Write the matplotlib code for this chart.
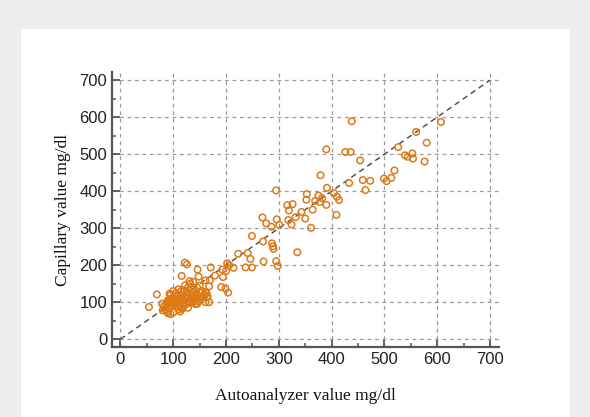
import matplotlib
matplotlib.use("Agg")
import matplotlib.pyplot as plt
from matplotlib.patches import Rectangle
from matplotlib.ticker import MultipleLocator

# Autoanalyzer (x) vs Capillary (y) values, mg/dl
auto_vals = [
    438, 607, 560, 390, 526, 580, 426, 436, 539, 553, 554, 544, 576, 454, 519,
    379, 499, 504, 513, 459, 473, 433, 464, 391, 295, 404, 410, 414, 353, 352,
    375, 382, 378, 369, 390, 409, 316, 326, 319, 343, 350, 364, 361, 269, 276,
    286, 296, 301, 318, 324, 332, 249, 270, 287, 289, 290, 335, 271, 295, 298,
    223, 241, 246, 237, 249, 202, 206, 214, 193, 200, 171, 179, 146, 148, 161,
    169, 168, 194, 191, 199, 204, 122, 126, 116, 131, 161, 164, 161, 168, 142,
    69, 54, 93, 89, 79,
    95, 100, 105, 110, 115, 120, 125, 130, 135, 140, 145, 150, 155, 158,
    85, 88, 90, 95, 100, 92, 97, 100, 103, 105, 108, 110, 112, 115, 118, 120,
    122, 125, 128, 130, 132, 135, 138, 140, 142, 145, 148, 150, 152, 155, 160,
    163, 165, 98, 100, 102, 96, 104, 106, 108, 112, 114, 116, 118, 120, 124,
    126, 128, 110, 113, 117, 95, 90, 86, 82, 80, 135, 140, 145, 150, 128, 122,
    132, 138,
    97, 99, 101, 103, 94, 106, 99, 102, 108, 111, 93, 104,
]
capillary_vals = [
    589, 587, 560, 513, 519, 531, 506, 506, 497, 502, 488, 493, 480, 483, 456,
    443, 434, 427, 436, 430, 428, 422, 403, 409, 402, 395, 385, 376, 392, 377,
    388, 381, 371, 374, 363, 336, 362, 365, 348, 344, 326, 350, 301, 329, 313,
    304, 324, 309, 322, 310, 330, 279, 264, 259, 251, 244, 235, 210, 211, 198,
    231, 233, 217, 194, 194, 205, 200, 193, 188, 184, 194, 172, 188, 169, 159,
    159, 143, 168, 141, 137, 126, 207, 202, 171, 157, 127, 113, 100, 100, 95,
    121, 87, 123, 99, 96,
    120, 130, 125, 135, 130, 133, 128, 125, 122, 118, 120, 115, 112, 118,
    80, 75, 70, 68, 72, 85, 90, 95, 100, 105, 98, 92, 88, 85, 95, 100,
    105, 110, 102, 98, 108, 112, 100, 105, 110, 95, 102, 108, 125, 130, 120,
    125, 115, 100, 105, 92, 98, 110, 115, 120, 112, 118, 105, 110, 90, 95,
    118, 85, 80, 75, 82, 110, 105, 95, 88, 78, 135, 128, 140, 145, 140, 145,
    150, 155,
    97, 103, 99, 94, 101, 100, 107, 91, 102, 97, 104, 96,
]
x_ticks = [0, 100, 200, 300, 400, 500, 600, 700]
y_ticks = [0, 100, 200, 300, 400, 500, 600, 700]
identity = [0, 700]

fig = plt.figure(figsize=(5.9, 4.17), dpi=100)
fig.patch.set_facecolor("#eeeeee")
fig.patches.append(Rectangle((21 / 590, 0), (570 - 21) / 590, 1 - 29 / 417,
                             transform=fig.transFigure, facecolor="white",
                             edgecolor="none", zorder=-5))

ax = fig.add_axes([112 / 590, 1 - 347 / 417, (499 - 112) / 590, (347 - 72) / 417])
ax.set_zorder(2)
ax.set_facecolor("none")
ax.set_xlim(-16, 717)
ax.set_ylim(-21, 722)

ax.grid(True, which="major", color="#9a9a9a", linestyle=(0, (3, 3)), linewidth=0.9)
ax.set_axisbelow(True)

ax.plot(identity, identity, color="#444444", linestyle=(0, (4, 3)), linewidth=1.0, zorder=2)
ax.scatter(auto_vals, capillary_vals, s=22, facecolors="none", edgecolors="#dc7a18",
           linewidths=1.1, zorder=3)

for s in ["top", "right"]:
    ax.spines[s].set_visible(False)
for s in ["left", "bottom"]:
    ax.spines[s].set_color("#555555")
    ax.spines[s].set_linewidth(1.6)

ax.set_xticks(x_ticks)
ax.set_yticks(y_ticks)
ax.xaxis.set_minor_locator(MultipleLocator(50))
ax.yaxis.set_minor_locator(MultipleLocator(50))
ax.tick_params(which="major", direction="in", length=6, width=1.3, color="#555555",
               labelsize=12, labelcolor="#222222")
ax.tick_params(which="minor", direction="in", length=3, width=1.1, color="#555555")
for lab in ax.get_xticklabels() + ax.get_yticklabels():
    lab.set_fontfamily("Liberation Sans")

ax.set_xlabel("Autoanalyzer value mg/dl", fontfamily="Liberation Serif", fontsize=12.5,
              color="#111111", labelpad=15)
ax.set_ylabel("Capillary value mg/dl", fontfamily="Liberation Serif", fontsize=12.5,
              color="#111111", labelpad=6)

fig.savefig("out.png", dpi=100, facecolor=fig.get_facecolor())
